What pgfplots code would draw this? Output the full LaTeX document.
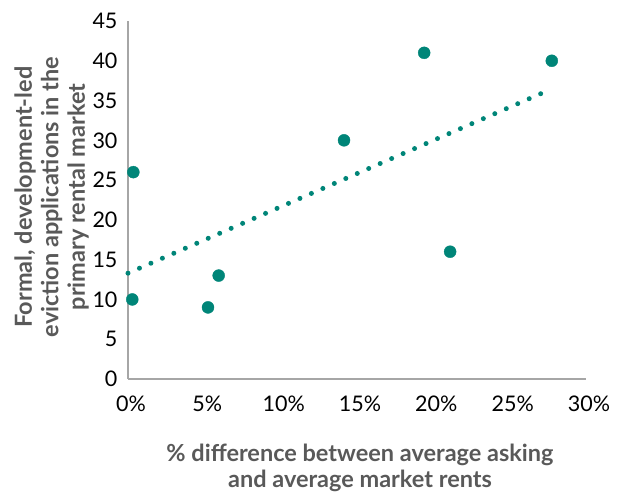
\documentclass[border=0pt]{standalone}
\usepackage{pgfplots}
\pgfplotsset{compat=1.18}
\usepackage{fontspec}
\setmainfont{Lato}
\definecolor{teal1}{RGB}{0,133,120}
\definecolor{axgray}{RGB}{166,166,166}
\definecolor{labgray}{RGB}{89,89,89}
\begin{document}
\begin{tikzpicture}[x=1pt,y=1pt]
\path[use as bounding box] (-128,-114) rectangle (497,379);
\begin{axis}[
  at={(0,0)}, anchor=south west,
  scale only axis, width=458pt, height=358pt,
  xmin=0, xmax=30, ymin=0, ymax=45,
  axis lines*=left,
  axis line style={axgray, line width=2pt},
  xtick={0,5,...,30},
  xticklabels={0\%,5\%,10\%,15\%,20\%,25\%,30\%},
  ytick={0,5,...,45},
  major tick length=0pt,
  tick label style={font=\fontsize{21.5}{24}\selectfont, black},
  xticklabel style={yshift=-13pt, xshift=3pt},
  yticklabel style={xshift=-7pt},
  /pgf/number format/assume math mode=true,
  clip=false,
]
\addplot[teal1, line width=5pt, line cap=round, dash pattern=on 0pt off 12.5pt]
  coordinates {(0,13.3) (27.2,36.0)};
\addplot[only marks, mark=*, mark size=6pt, mark options={fill=teal1, draw=teal1}]
  coordinates {
  (0.35,26) (0.28,10) (5.24,9) (5.94,13) (14.15,30) (19.4,41) (21.1,16) (27.76,40)
  };
\end{axis}
\node[rotate=90, align=center, font=\fontsize{23.5}{26.5}\selectfont\bfseries, text=labgray]
  at (-76.5,182) {Formal, development-led\\eviction applications in the\\primary rental market};
\node[align=center, font=\fontsize{23.5}{26.5}\selectfont\bfseries, text=labgray]
  at (232,-89) {\% difference between average asking\\and average market rents};
\end{tikzpicture}
\end{document}
